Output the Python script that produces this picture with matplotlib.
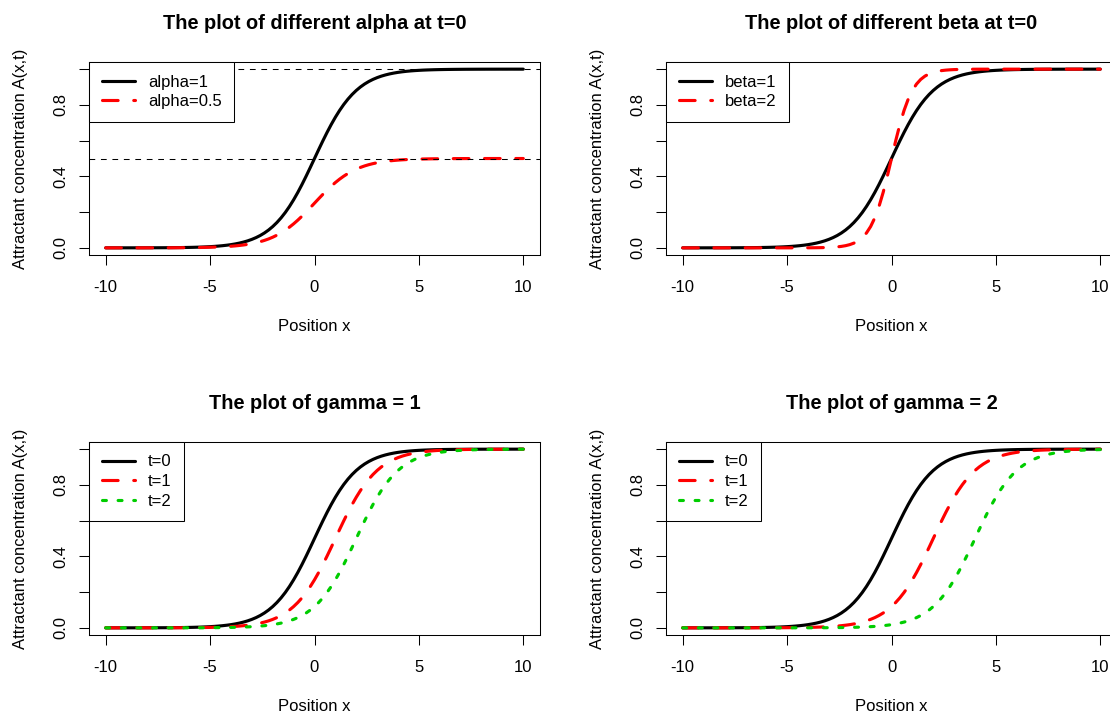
import numpy as np
import matplotlib
matplotlib.use("Agg")
import matplotlib.pyplot as plt
from matplotlib.ticker import FixedLocator, FixedFormatter

plt.rcParams['font.family'] = ['Liberation Sans', 'DejaVu Sans']

# ---- data (curve parameters of A(x,t) = alpha / (1 + exp(-beta*(x - gamma*t)))) ----
x_grid = np.linspace(-10, 10, 101)

p1_alpha = [1, 0.5]
p1_labels = ["alpha=1", "alpha=0.5"]
p1_hlines = [1.0, 0.5]

p2_beta = [1, 2]
p2_labels = ["beta=1", "beta=2"]

p3_gamma = 1
p4_gamma = 2
t_values = [0, 1, 2]
t_labels = ["t=0", "t=1", "t=2"]

titles = ["The plot of different alpha at t=0", "The plot of different beta at t=0",
          "The plot of gamma = 1", "The plot of gamma = 2"]
xlabel = "Position x"
ylabel = "Attractant concentration A(x,t)"
xticks = [-10, -5, 0, 5, 10]
yticks = [0.0, 0.2, 0.4, 0.6, 0.8, 1.0]
ytick_labels = ["0.0", "", "0.4", "", "0.8", ""]


def conc(x, alpha=1.0, beta=1.0, gamma=0.0, t=0.0):
    return alpha / (1.0 + np.exp(-beta * (x - gamma * t)))


# ---- styling ----
PX = 0.72  # points per pixel at dpi 100
W, H = 1110, 718
LW = 2.25
colors = ["black", "#FF0000", "#00CD00"]
styles = ["-", (0, (5, 5)), (0, (1.25, 3.75))]

fig = plt.figure(figsize=(W / 100, H / 100), dpi=100)
aw, ah = 451 / W, 193 / H
rects = [
    [89 / W, 1 - 255 / H, aw, ah],
    [666 / W, 1 - 255 / H, aw, ah],
    [89 / W, 1 - 635 / H, aw, ah],
    [666 / W, 1 - 635 / H, aw, ah],
]
axes = [fig.add_axes(r) for r in rects]


def style_axes(ax, title):
    ax.set_xlim(-10.8, 10.8)
    ax.set_ylim(-0.04, 1.04)
    ax.xaxis.set_major_locator(FixedLocator(xticks))
    ax.yaxis.set_major_locator(FixedLocator(yticks))
    ax.yaxis.set_major_formatter(FixedFormatter(ytick_labels))
    ax.set_xticklabels([str(v) for v in xticks])
    for s in ax.spines.values():
        s.set_linewidth(0.75)
        s.set_color("black")
    ax.tick_params(axis="both", direction="out", length=10 * PX, width=0.75,
                   labelsize=12, colors="black")
    ax.tick_params(axis="x", pad=11)
    ax.tick_params(axis="y", pad=8, labelrotation=90)
    for lab in ax.get_yticklabels():
        lab.set_va("center")
    ax.annotate(title, xy=(0.5, 1), xycoords="axes fraction",
                xytext=(0, 33 * PX), textcoords="offset points",
                ha="center", va="baseline", fontsize=14.4, fontweight="bold")
    ax.annotate(xlabel, xy=(0.5, 0), xycoords="axes fraction",
                xytext=(0, -76 * PX), textcoords="offset points",
                ha="center", va="baseline", fontsize=12)
    ax.annotate(ylabel, xy=(0, 0.5), xycoords="axes fraction",
                xytext=(-64 * PX, 0), textcoords="offset points",
                ha="center", va="baseline", fontsize=12, rotation=90,
                rotation_mode="anchor")


def draw(ax, ys, labels):
    for i, (y, lab) in enumerate(zip(ys, labels)):
        ax.plot(x_grid, y, color=colors[i], linestyle=styles[i], linewidth=LW,
                dash_capstyle="round", solid_capstyle="round",
                dash_joinstyle="round", solid_joinstyle="round", label=lab,
                zorder=2 + i)


def legend(ax):
    leg = ax.legend(loc="upper left", borderaxespad=0, fancybox=False,
                    edgecolor="black", framealpha=1, fontsize=12,
                    handlelength=1.98, handletextpad=0.8, borderpad=0.75,
                    labelspacing=0.28)
    leg.get_frame().set_linewidth(0.75)
    leg.set_zorder(10)


# panel 1
draw(axes[0], [conc(x_grid, alpha=a) for a in p1_alpha], p1_labels)
for h in p1_hlines:
    axes[0].axhline(h, color="black", linewidth=0.75, linestyle=(0, (5.5, 5.5)), zorder=6)
legend(axes[0])

# panel 2
draw(axes[1], [conc(x_grid, beta=b) for b in p2_beta], p2_labels)
legend(axes[1])

# panel 3
draw(axes[2], [conc(x_grid, gamma=p3_gamma, t=t) for t in t_values], t_labels)
legend(axes[2])

# panel 4
draw(axes[3], [conc(x_grid, gamma=p4_gamma, t=t) for t in t_values], t_labels)
legend(axes[3])

for ax, t in zip(axes, titles):
    style_axes(ax, t)

fig.savefig("out.png", dpi=100)
